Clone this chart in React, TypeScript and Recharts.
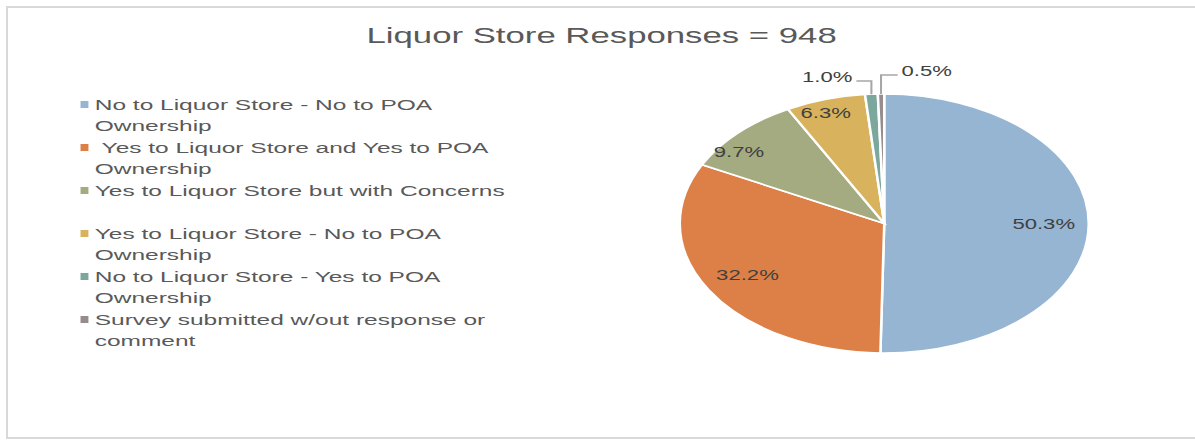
import { PieChart, Pie, Cell, Legend } from "recharts";

const chartTitle = "Liquor Store Responses = 948";

const categories = [
  "No to Liquor Store - No to POA Ownership",
  " Yes to Liquor Store and Yes to POA Ownership",
  "Yes to Liquor Store but with Concerns",
  "Yes to Liquor Store - No to POA Ownership",
  "No to Liquor Store - Yes to POA Ownership",
  "Survey submitted w/out response or comment",
];

// share of the 948 responses, in percent
const shares = [50.3, 32.2, 9.7, 6.3, 1.0, 0.5];

const sliceColors = ["#95B5D3", "#DD8047", "#A5AB81", "#D8B25C", "#7BA79D", "#968C8C"];

const data = categories.map((name, i) => ({ name, value: shares[i] }));

// the reference picture is stretched sideways, so draw narrow and scale x
const STRETCH = 1.579;
const W = 757;
const H = 440;
const RADIAN = Math.PI / 180;
const FONT = "'Liberation Sans', Arial, sans-serif";

function PctLabel(props: any) {
  const { cx, cy, midAngle, outerRadius, percent } = props;
  const pct = Math.round(percent * 1000) / 10;
  const text = pct.toFixed(1) + "%";
  if (percent >= 0.05) {
    const big = percent > 0.2;
    const r = outerRadius * (big ? 0.78 : 0.9);
    // mid-sized slices: nudge the label toward the roomier side, like excel's best fit
    const ang = big ? midAngle : midAngle + (pct - 5) * 1.4;
    const x = cx + r * Math.cos(-ang * RADIAN);
    const y = cy + r * Math.sin(-ang * RADIAN);
    return (
      <text x={x} y={y} fill="#404040" fontSize={14} fontFamily={FONT} textAnchor="middle" dominantBaseline="central">
        {text}
      </text>
    );
  }
  // tiny slices: label outside with an elbow leader line
  const sx = cx + outerRadius * Math.cos(-midAngle * RADIAN);
  const sy = cy + outerRadius * Math.sin(-midAngle * RADIAN);
  const a = ((midAngle % 360) + 360) % 360;
  const left = a > 92;
  const ey = cy - outerRadius - (left ? 13 : 19);
  const ex = sx + (left ? -9.5 : 10.5);
  return (
    <g>
      <polyline points={`${sx},${sy} ${sx},${ey} ${ex},${ey}`} fill="none" stroke="#a6a6a6" strokeWidth={1.3} />
      <text
        x={left ? ex - 2.5 : ex + 2.5}
        y={ey + 1}
        fill="#404040"
        fontSize={14}
        fontFamily={FONT}
        textAnchor={left ? "end" : "start"}
      >
        {text}
      </text>
    </g>
  );
}

function LegendBox(props: any) {
  const payload = [...(props.payload || [])].sort(
    (a: any, b: any) => categories.indexOf(a.value) - categories.indexOf(b.value)
  );
  return (
    <div style={{ fontFamily: FONT, fontSize: 15.5, color: "#595959" }}>
      {payload.map((entry: any, i: number) => (
        <div key={i} style={{ position: "relative", height: 43.2 }}>
          <div
            style={{
              position: "absolute",
              left: 0,
              top: 7,
              width: 4.6,
              height: 7,
              background: entry.color || sliceColors[i],
            }}
          />
          <div
            style={{
              position: "absolute",
              left: 9,
              top: 0,
              width: 275,
              lineHeight: "21px",
              whiteSpace: "pre-wrap",
            }}
          >
            {entry.value}
          </div>
        </div>
      ))}
    </div>
  );
}

export default function App() {
  return (
    <div style={{ position: "absolute", left: 0, top: 0, width: 1195, height: 440, overflow: "hidden", background: "#fff" }}>
      <div
        style={{
          position: "absolute",
          left: 6,
          top: 6,
          width: 1200,
          height: 429,
          border: "2px solid #d9d9d9",
        }}
      />
      <div
        style={{
          position: "absolute",
          left: 0,
          top: 0,
          width: W,
          height: H,
          transform: `scaleX(${STRETCH})`,
          transformOrigin: "0 0",
        }}
      >
        <div
          style={{
            position: "absolute",
            left: 0,
            top: 23,
            width: 762,
            textAlign: "center",
            fontFamily: FONT,
            fontSize: 22,
            lineHeight: "25px",
            color: "#595959",
          }}
        >
          {chartTitle}
        </div>
        <PieChart width={W} height={H} margin={{ top: 0, right: 0, bottom: 0, left: 0 }}>
          <Pie
            data={data}
            dataKey="value"
            nameKey="name"
            cx={560}
            cy={223.5}
            outerRadius={129.5}
            startAngle={90}
            endAngle={-270}
            stroke="#ffffff"
            strokeWidth={1.6}
            label={PctLabel}
            labelLine={false}
            isAnimationActive={false}
          >
            {data.map((d, i) => (
              <Cell key={d.name} fill={sliceColors[i]} />
            ))}
          </Pie>
          <Legend
            layout="vertical"
            align="center"
            verticalAlign="middle"
            content={LegendBox}
            wrapperStyle={{ left: 51, top: 93.5, width: 300, height: 260 }}
          />
        </PieChart>
      </div>
    </div>
  );
}
